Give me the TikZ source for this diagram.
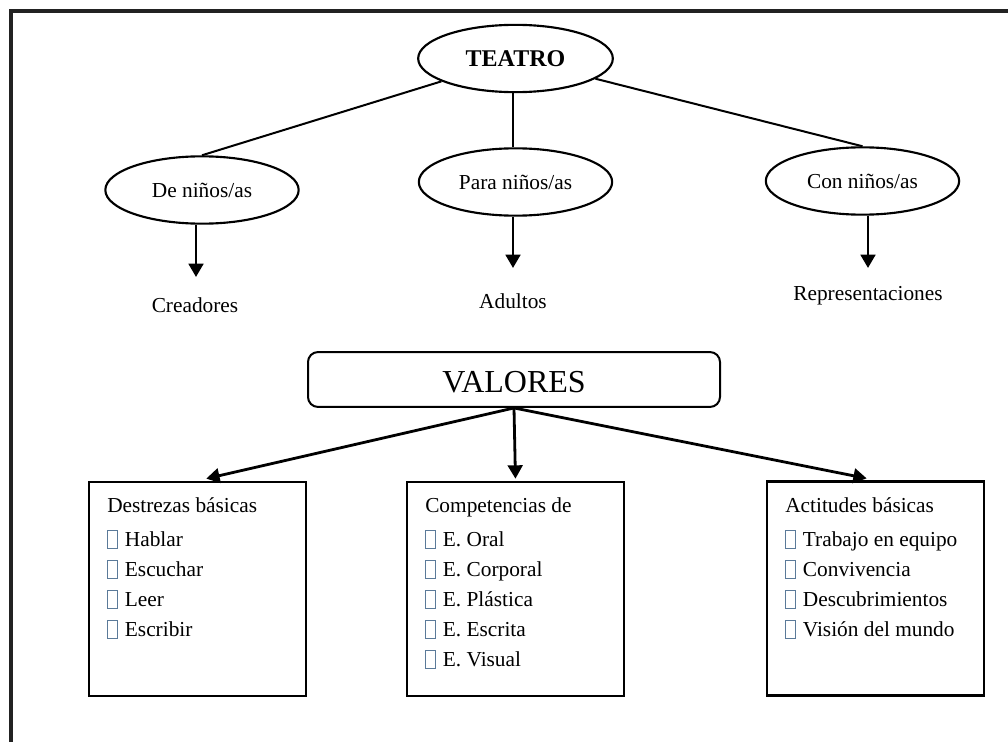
\documentclass[tikz,border=0pt]{standalone}
\usepackage{fontspec}
\setmainfont{Liberation Serif}
\usetikzlibrary{arrows.meta,shapes.geometric}
\definecolor{framec}{HTML}{222222}
\definecolor{glyphc}{HTML}{5B7A99}
\newcommand\gbox{{\color{glyphc}\setlength\fboxrule{0.75pt}\setlength\fboxsep{0pt}\fbox{\rule[-1.5pt]{0pt}{12.4pt}\hspace{6.75pt}}}\hspace{5pt}}
\begin{document}
\begin{tikzpicture}[x=0.75pt,y=-0.75pt,
  oval/.style={ellipse, draw, line width=1.6pt, minimum width=145pt, minimum height=50.5pt, inner sep=0pt, font=\fontsize{16}{19}\selectfont},
  lbl/.style={inner sep=0pt, anchor=base, font=\fontsize{16}{19}\selectfont},
  thinline/.style={line width=1.5pt},
  arr/.style={line width=2.1pt, -{Triangle[length=10pt,width=11pt]}},
  bx/.style={draw, line width=2pt, minimum width=162.75pt, minimum height=160.5pt, inner sep=0pt},
  txt/.style={inner sep=0pt, anchor=base west, font=\fontsize{16}{19}\selectfont}]
\useasboundingbox (0,0) rectangle (1008,742);
\fill[white] (0,0) rectangle (1008,742);
% frame
\draw[framec, line width=2.4pt] (1012,11) -- (11,11) -- (11,746);
% top ellipses
\node[oval, minimum width=146pt, font=\fontsize{18}{21}\bfseries] (teatro) at (515.5,58.5) {TEATRO};
\node[oval] (de) at (202,190) {De niños/as};
\node[oval] (para) at (515.5,182) {Para niños/as};
\node[oval] (con) at (862.5,181) {Con niños/as};
% labels
\node[lbl] (cre) at (195,312) {Creadores};
\node[lbl] (adu) at (513,308) {Adultos};
\node[lbl] (rep) at (868,300) {Representaciones};
\coordinate (creT) at (196,277);
\coordinate (aduT) at (513,268);
\coordinate (repT) at (868,268);
\draw[thinline] (teatro) -- (de.north);
\draw[thinline] (teatro.south -| aduT) -- (para.north -| aduT);
\draw[thinline] (teatro) -- (con.north);
\draw[arr] (de.south -| creT) -- (creT);
\draw[arr] (para.south -| aduT) -- (aduT);
\draw[arr] (con.south -| repT) -- (repT);
% valores
\node[draw, rounded corners=7.5pt, line width=1.5pt, minimum width=309pt, inner sep=0pt,
      text height=30.5pt, text depth=10.7pt, font=\fontsize{24}{28}\selectfont] (val) at (514,379.5) {VALORES};
% boxes
\node[bx] (lb) at (197.5,589) {};
\node[bx] (cb) at (515.5,589) {};
\node[bx] (rb) at (875.5,588.5) {};
\draw[arr, shorten >=6.75pt] (val.south) -- (lb.north);
\draw[arr, shorten >=1.5pt] (val.south) -- (cb.north);
\draw[arr, shorten >=6.75pt] (val.south) -- (rb.north);
% left box text
\node[txt] (l0) at (107,512) {Destrezas básicas};
\node[txt] (l1) at (107,546) {\gbox Hablar};
\node[txt] (l2) at (107,576) {\gbox Escuchar};
\node[txt] (l3) at (107,606) {\gbox Leer};
\node[txt] (l4) at (107,636) {\gbox Escribir};
% center box text
\node[txt] (c0) at (425,512) {Competencias de};
\node[txt] (c1) at (425,546) {\gbox E. Oral};
\node[txt] (c2) at (425,576) {\gbox E. Corporal};
\node[txt] (c3) at (425,606) {\gbox E. Plástica};
\node[txt] (c4) at (425,636) {\gbox E. Escrita};
\node[txt] (c5) at (425,666) {\gbox E. Visual};
% right box text
\node[txt] (r0) at (785,512) {Actitudes básicas};
\node[txt] (r1) at (785,546) {\gbox Trabajo en equipo};
\node[txt] (r2) at (785,576) {\gbox Convivencia};
\node[txt] (r3) at (785,606) {\gbox Descubrimientos};
\node[txt] (r4) at (785,636) {\gbox Visión del mundo};
\end{tikzpicture}
\end{document}
